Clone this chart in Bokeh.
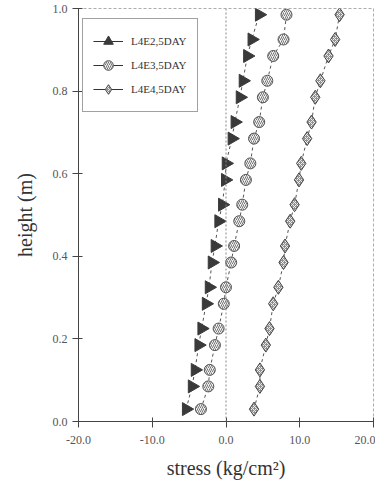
import numpy as np
from bokeh.plotting import figure
from bokeh.models import (Range1d, Span, Legend, LegendItem, NumeralTickFormatter,
                          FixedTicker, ColumnDataSource)
from bokeh.embed import file_html
from bokeh.resources import INLINE

# --- data ---
height = [0.03, 0.085, 0.125, 0.185, 0.225, 0.285, 0.325, 0.385, 0.425, 0.485,
          0.525, 0.585, 0.625, 0.685, 0.725, 0.785, 0.825, 0.885, 0.925, 0.985]
stress_2_5 = [-5.4, -4.6, -4.2, -3.7, -3.3, -2.7, -2.3, -1.9, -1.5, -1.0,
              -0.5, -0.1, 0.0, 0.8, 1.2, 1.9, 2.3, 2.9, 3.5, 4.5]
stress_3_5 = [-3.4, -2.4, -2.2, -1.5, -1.0, -0.3, 0.0, 0.7, 1.1, 1.8,
              2.2, 2.7, 3.3, 3.8, 4.5, 5.0, 5.6, 6.4, 7.8, 8.2]
stress_4_5 = [3.8, 4.6, 4.6, 5.4, 5.9, 6.4, 7.1, 7.8, 8.0, 8.7,
              9.3, 9.9, 10.2, 11.0, 11.6, 12.1, 12.8, 13.9, 14.8, 15.4]
labels = ["L4E2,5DAY", "L4E3,5DAY", "L4E4,5DAY"]
x_ticks = [-20, -10, 0, 10, 20]
y_ticks = [0.0, 0.2, 0.4, 0.6, 0.8, 1.0]

FONT = "Liberation Serif"

p = figure(width=375, height=481, output_backend="svg", toolbar_location=None,
           x_range=Range1d(-20, 20), y_range=Range1d(0, 1),
           min_border_left=78, min_border_right=2, min_border_top=8, min_border_bottom=59)
p.grid.visible = False
p.outline_line_color = "#999999"
p.outline_line_alpha = 0.8
p.outline_line_dash = "3 2"
p.background_fill_color = "white"
p.border_fill_color = "white"

for ax in (p.xaxis[0], p.yaxis[0]):
    ax.major_label_text_font = FONT
    ax.major_label_text_font_size = "12px"
    ax.major_label_text_color = "#555555"
    ax.axis_label_text_font = FONT
    ax.axis_label_text_font_style = "normal"
    ax.axis_label_text_color = "#333333"
    ax.axis_label_text_font_size = "20px"
    ax.axis_line_color = "#444444"
    ax.major_tick_line_color = "#444444"
    ax.major_tick_in = 4
    ax.major_tick_out = 6
    ax.minor_tick_line_color = None
    ax.formatter = NumeralTickFormatter(format="0.0")

p.xaxis.ticker = FixedTicker(ticks=x_ticks)
p.yaxis.ticker = FixedTicker(ticks=y_ticks)
p.xaxis.axis_label = "stress (kg/cm²)"
p.yaxis.axis_label = "height (m)"
p.xaxis.major_label_standoff = 8
p.xaxis.axis_label_standoff = 10
p.yaxis.axis_label_standoff = 14

p.add_layout(Span(location=0, dimension="height", line_color="#888888",
                  line_dash="2 2", line_width=1))

src = ColumnDataSource(dict(h=height, s1=stress_2_5, s2=stress_3_5, s3=stress_4_5))

p.line("s1", "h", source=src, line_color="#555555", line_dash="3 3", line_width=1)
p.line("s2", "h", source=src, line_color="#555555", line_dash="3 3", line_width=1)
p.line("s3", "h", source=src, line_color="#555555", line_dash="3 3", line_width=1)

tri_style = dict(fill_color="#3a3a3a", line_color="#3a3a3a")
circ_style = dict(fill_color="#f2f2f2", line_color="#555555", hatch_pattern="/",
                  hatch_color="#777777", hatch_scale=4, hatch_weight=1)
diam_style = dict(fill_color="#8f8f8f", line_color="#444444", hatch_pattern="x",
                  hatch_color="#eeeeee", hatch_scale=4, hatch_weight=1)

p.scatter("s1", "h", source=src, marker="triangle", size=13, angle=-np.pi / 2, **tri_style)
p.scatter("s2", "h", source=src, marker="circle", size=11, **circ_style)
p.scatter("s3", "h", source=src, marker="diamond", size=14, **diam_style)

# legend-only glyphs (legend shows upward triangle); a single NaN point so nothing shows in the plot
leg = ColumnDataSource(dict(x=[np.nan], y=[np.nan]))
g1 = p.scatter("x", "y", source=leg, marker="triangle", size=12, **tri_style)
g2 = p.scatter("x", "y", source=leg, marker="circle", size=11, **circ_style)
g3 = p.scatter("x", "y", source=leg, marker="diamond", size=14, **diam_style)
ll1 = p.line("x", "y", source=leg, line_color="#333333", line_width=1)
ll2 = p.line("x", "y", source=leg, line_color="#333333", line_width=1)
ll3 = p.line("x", "y", source=leg, line_color="#333333", line_width=1)

legend = Legend(items=[LegendItem(label=labels[0], renderers=[ll1, g1]),
                       LegendItem(label=labels[1], renderers=[ll2, g2]),
                       LegendItem(label=labels[2], renderers=[ll3, g3])],
                location=(4, 309))
legend.label_text_font = FONT
legend.label_text_font_size = "11px"
legend.label_text_color = "#333333"
legend.border_line_color = "#444444"
legend.border_line_width = 1
legend.background_fill_alpha = 1
legend.glyph_width = 30
legend.glyph_height = 24
legend.label_height = 24
legend.spacing = 0
legend.padding = 10
legend.label_standoff = 8
legend.margin = 0
p.add_layout(legend, "center")

open("out.html", "w").write(file_html(p, INLINE))
